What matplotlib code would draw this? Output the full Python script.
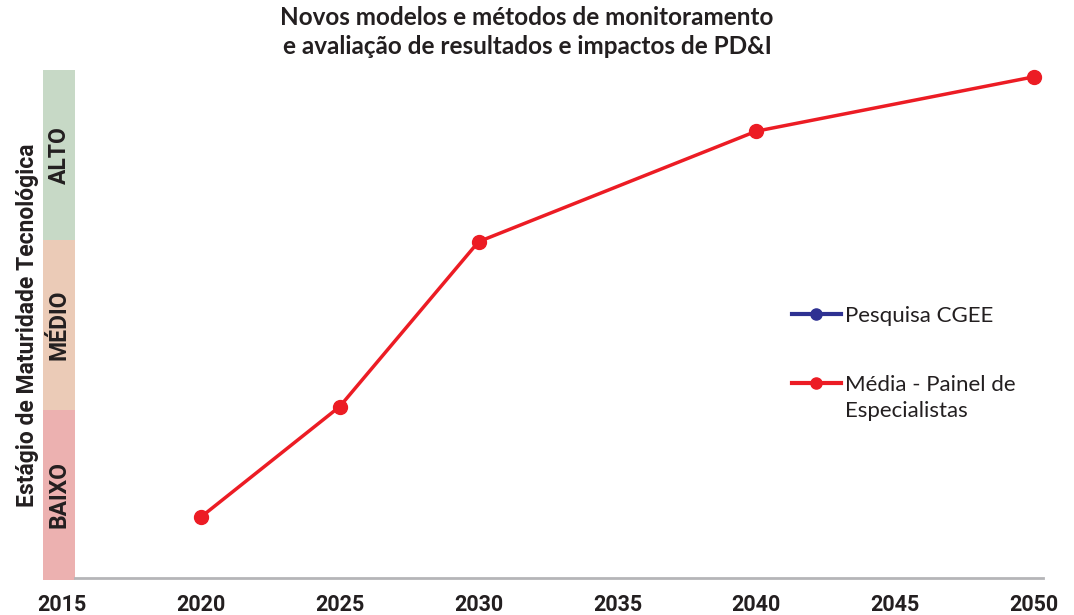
import matplotlib.pyplot as plt

# data (maturity scale 0..3: baixo / médio / alto)
years = [2020, 2025, 2030, 2040, 2050]
media_painel = [0.37, 1.02, 1.99, 2.64, 2.96]
pesquisa_years = []
pesquisa_cgee = []
tick_years = [2015, 2020, 2025, 2030, 2035, 2040, 2045, 2050]
levels = ["BAIXO", "MÉDIO", "ALTO"]
level_colors = ["#ecb1b0", "#ebcbb7", "#c7d9c6"]

narrow = ["Roboto", "DejaVu Sans"]
plt.rcParams["font.family"] = ["Lato", "DejaVu Sans"]

fig = plt.figure(figsize=(10.74, 6.15), dpi=100)
# axes box in pixels: x 43..1043, y 70..580
ax = fig.add_axes([43 / 1074, 35 / 615, 1000 / 1074, 510 / 615])

px_per_year = 139 / 5
x0 = 2015 - 19 / px_per_year
x1 = 2050 + 9 / px_per_year
band_right = 2015 + 13 / px_per_year
ax.set_xlim(x0, x1)
ax.set_ylim(0, 3)

# maturity bands on the left
for i, (lab, col) in enumerate(zip(levels, level_colors)):
    ax.fill_between([x0, band_right], i, i + 1, color=col, lw=0, zorder=1)
    ax.text((x0 + band_right) / 2, i + 0.5, lab, rotation=90, ha="center",
            va="center", fontsize=16.5, fontweight="bold", color="#231f20",
            family=narrow, zorder=2)

# bottom axis line
ax.plot([band_right, x1], [0.01, 0.01], color="#b5b5b8", lw=2, zorder=2,
        clip_on=False)

ax.plot(pesquisa_years, pesquisa_cgee, color="#2e3192", lw=3, marker="o",
        markersize=8, label="Pesquisa CGEE")
ax.plot(years, media_painel, color="#ec1c24", lw=2.5, marker="o",
        markersize=10, label="Média - Painel de", zorder=3, clip_on=False)

for s in ax.spines.values():
    s.set_visible(False)
ax.set_yticks([])
ax.set_xticks(tick_years)
ax.set_xticklabels([str(y) for y in tick_years], fontsize=15.5,
                   fontweight="bold", family=narrow, color="#231f20")
ax.tick_params(axis="x", length=0, pad=10)

ax.set_ylabel("Estágio de Maturidade Tecnológica", fontsize=16.5,
              fontweight="bold", family=narrow, color="#231f20", labelpad=3)

fig.suptitle("Novos modelos e métodos de monitoramento\n"
             "e avaliação de resultados e impactos de PD&I",
             x=527 / 1074, y=0.991, fontsize=17.5, fontweight="bold",
             color="#231f20", linespacing=1.35)

leg = ax.legend(loc="upper left", bbox_to_anchor=(740 / 1000, 283 / 510),
                frameon=False, fontsize=16, handlelength=2.2,
                handletextpad=0.2, labelspacing=2.2, borderaxespad=0)
for h in leg.legend_handles:
    h.set_markersize(8)
    h.set_linewidth(3)
for t in leg.get_texts():
    t.set_color("#231f20")
# second line of the red legend label, drawn after the legend is placed
ax.annotate("Especialistas", xy=(0, 0), xycoords=leg.get_texts()[1],
            xytext=(0, -4.5), textcoords="offset points", va="top", ha="left",
            fontsize=16, color="#231f20", zorder=10)

fig.savefig("out.png", dpi=100)
